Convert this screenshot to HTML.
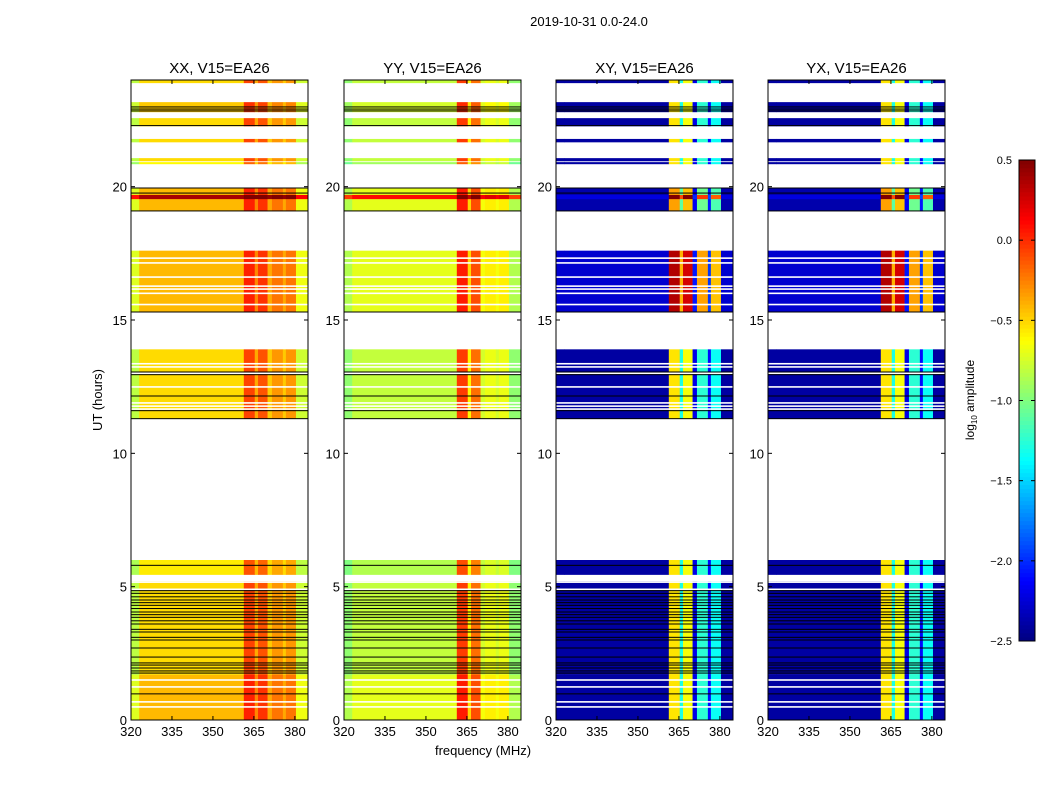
<!DOCTYPE html>
<html><head><meta charset="utf-8">
<style>
body{margin:0;background:#fff;}
svg text{font-family:"Liberation Sans","DejaVu Sans",sans-serif;}
</style></head>
<body>
<svg id="fig" width="1050" height="800" viewBox="0 0 1050 800" xmlns="http://www.w3.org/2000/svg">
<rect width="1050" height="800" fill="#fff"/>
<text x="589" y="26" font-size="13" text-anchor="middle">2019-10-31 0.0-24.0</text>
<text x="483" y="755" font-size="13" text-anchor="middle">frequency (MHz)</text>
<text transform="translate(102,400) rotate(-90)" font-size="13" text-anchor="middle">UT (hours)</text>
<g id="panels"></g>
<g id="cbar"></g>
</svg>
<script>
// ---- data ----
const panelTitles = ["XX, V15=EA26","YY, V15=EA26","XY, V15=EA26","YX, V15=EA26"];
const xTicks = [320,335,350,365,380];
const yTicks = [0,5,10,15,20];
const cbTicks = [0.5,0.0,-0.5,-1.0,-1.5,-2.0,-2.5];
// time bands (hours) with data
const bandStart = [0, 1.7, 5.45, 11.3, 15.3, 19.09, 19.54, 20.85, 20.96, 21.67, 22.27, 22.8, 23.89];
const bandEnd   = [1.7, 5.2, 6.0, 13.9, 17.6, 19.95, 19.69, 20.92, 21.07, 21.79, 22.57, 23.17, 24.0];
const bandParDelta   = [0.1, 0.0, -0.05, 0.0, 0.1, 0.1, 0.9, -0.1, 0.0, 0.0, 0.0, 0.05, 0.0];
const bandCrossDelta = [0.0, 0.0, 0.0, 0.0, 0.9, 0.2, 1.2, 0.0, 0.0, 0.0, 0.0, 0.0, 0.0];
// frequency segments (MHz)
const segStart = [320, 323, 361.3, 365.3, 366.5, 370, 371.6, 375.6, 376.7, 380.4];
const segEnd   = [323, 361.3, 365.3, 366.5, 370, 371.6, 375.6, 376.7, 380.4, 384.8];
// per-pol baseline and per-segment offsets (log10 amplitude)
const polBase = [-0.52, -0.8, -2.4, -2.4];
const xxOffset = [-0.3, 0, 0.45, 0.15, 0.4, 0.05, 0.2, 0.05, 0.2, -0.25];
const yyOffset = [-0.15, 0, 0.75, 0.2, 0.6, 0.05, 0.12, 0.05, 0.12, -0.15];
const xyOffset = [0, 0, 1.85, 1.1, 1.75, 0.2, 1.15, 0.3, 1.05, 0];
const yxOffset = [0, 0, 1.85, 1.1, 1.75, 0.2, 1.15, 0.3, 1.05, 0];
// flagged thin lines
const whiteTimes = [5.17, 4.9, 1.5, 1.24, 0.68, 0.49, 17.32, 17.14, 16.61, 16.27, 16.16, 16.0, 15.58, 13.36, 13.24, 13.0, 12.49, 11.89, 11.77, 11.66, 23.5];
const blackTimes = [5.8, 4.85, 4.75, 4.62, 4.5, 4.4, 4.3, 4.18, 4.05, 3.95, 3.85, 3.72, 3.6, 3.4, 3.3, 3.1, 3.0, 2.7, 2.36, 2.14, 2.06, 1.95, 1.84, 1.76, 0.98, 13.05, 12.95, 12.15, 11.6, 11.3, 15.3, 19.95, 19.76, 19.09, 22.99, 22.91, 22.84, 22.29];

const panelX = [131, 344, 556, 768];
const pW = 177, pTop = 80, pBot = 720;
const fMin = 320, fMax = 384.8, tMin = 0, tMax = 24, vMin = -2.5, vMax = 0.5;
const NS = "http://www.w3.org/2000/svg";
function el(t, a){const e=document.createElementNS(NS,t);for(const k in a)e.setAttribute(k,a[k]);return e;}
function yOf(h){return pBot - (h - tMin)/(tMax - tMin)*(pBot - pTop);}
function jet(v){
  let t=(v-vMin)/(vMax-vMin);t=Math.max(0,Math.min(1,t));
  const c=x=>Math.round(255*Math.max(0,Math.min(1,x)));
  return `rgb(${c(1.5-Math.abs(4*t-3))},${c(1.5-Math.abs(4*t-2))},${c(1.5-Math.abs(4*t-1))})`;
}
const offsets=[xxOffset,yyOffset,xyOffset,yxOffset];
const root=document.getElementById('panels');
panelX.forEach((px,p)=>{
  const xOf=f=>px+(f-fMin)/(fMax-fMin)*pW;
  const g=el('g',{});
  
  
  root.appendChild(g);
  const t=el('text',{x:px+pW/2,y:73,'font-size':15,'text-anchor':'middle'});
  t.textContent=panelTitles[p];
  
  
  g.appendChild(t);
  const cross=p>=2;
  bandStart.forEach((bs,b)=>{
    const y1=yOf(bandEnd[b]), y0=yOf(bs);
    segStart.forEach((fs,s)=>{
      const off=offsets[p][s];
      const d=cross?bandCrossDelta[b]*(off>0.5?1:0.15):bandParDelta[b];
      const v=polBase[p]+off+d;
      const r=el('rect',{x:xOf(fs),y:y1,width:xOf(segEnd[s])-xOf(fs)+0.3,height:y0-y1+0.2,fill:jet(v)});
      
      
      g.appendChild(r);
    });
  });
  whiteTimes.forEach(h=>{
    const r=el('rect',{x:px,y:yOf(h)-0.8,width:pW,height:1.6,fill:'#fff'});
    
    
    g.appendChild(r);
  });
  blackTimes.forEach(h=>{
    const r=el('rect',{x:px,y:yOf(h)-0.5,width:pW,height:1.0,fill:'#000'});
    
    
    g.appendChild(r);
  });
  const fr=el('rect',{x:px,y:pTop,width:pW,height:pBot-pTop,fill:'none',stroke:'#000','stroke-width':1});
  
  
  g.appendChild(fr);
  xTicks.forEach(f=>{
    const x=xOf(f);
    g.appendChild(el('line',{x1:x,y1:pBot,x2:x,y2:pBot-4,stroke:'#000'}));
    g.appendChild(el('line',{x1:x,y1:pTop,x2:x,y2:pTop+4,stroke:'#000'}));
    const tx=el('text',{x:x,y:pBot+16,'font-size':13,'text-anchor':'middle'});
    tx.textContent=f;
    
    
    g.appendChild(tx);
  });
  yTicks.forEach(h=>{
    const y=yOf(h);
    g.appendChild(el('line',{x1:px,y1:y,x2:px+4,y2:y,stroke:'#000'}));
    g.appendChild(el('line',{x1:px+pW,y1:y,x2:px+pW-4,y2:y,stroke:'#000'}));
    const ty=el('text',{x:px-4,y:y+5,'font-size':13,'text-anchor':'end'});
    ty.textContent=h;
    
    
    g.appendChild(ty);
  });
});
// colorbar
const cb=document.getElementById('cbar');
const cbX=1019, cbW=16, cbT=160, cbB=641;
for(let i=0;i<120;i++){
  const v0=vMin+(vMax-vMin)*i/120;
  const y=cbB-(i+1)*(cbB-cbT)/120;
  const r=el('rect',{x:cbX,y:y,width:cbW,height:(cbB-cbT)/120+0.4,fill:jet(v0+(vMax-vMin)/240)});
  
  
  cb.appendChild(r);
}
const cbf=el('rect',{x:cbX,y:cbT,width:cbW,height:cbB-cbT,fill:'none',stroke:'#000'});


cb.appendChild(cbf);
cbTicks.forEach(v=>{
  const y=cbB-(v-vMin)/(vMax-vMin)*(cbB-cbT);
  cb.appendChild(el('line',{x1:cbX,y1:y,x2:cbX+4,y2:y,stroke:'#000'}));
  cb.appendChild(el('line',{x1:cbX+cbW,y1:y,x2:cbX+cbW-4,y2:y,stroke:'#000'}));
  const t=el('text',{x:1012,y:y+4,'font-size':11,'text-anchor':'end'});
  t.textContent=(v<0?'\u2212':'')+Math.abs(v).toFixed(1);
  
  
  cb.appendChild(t);
});
const cl=el('text',{transform:'translate(974,400) rotate(-90)','font-size':12,'text-anchor':'middle'});
cl.innerHTML='log<tspan font-size="8" dy="3">10</tspan><tspan dy="-3"> amplitude</tspan>';


cb.appendChild(cl);
</script>
</body></html>
